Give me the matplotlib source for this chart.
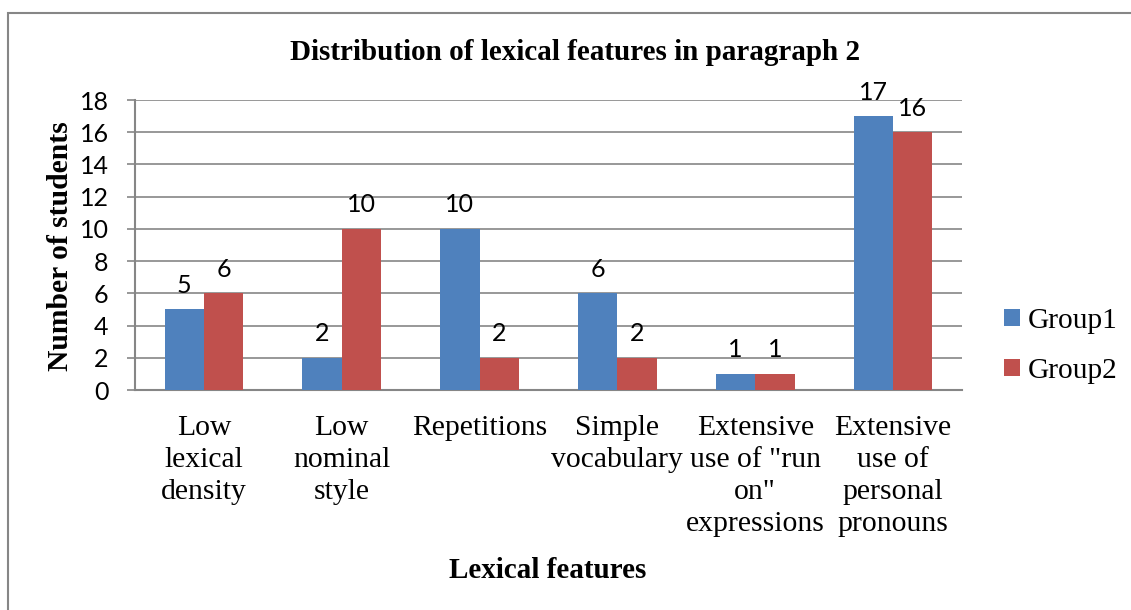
import matplotlib.pyplot as plt
from matplotlib.patches import Rectangle
import numpy as np

# data
categories = ['Low\nlexical\ndensity', 'Low\nnominal\nstyle', 'Repetitions',
              'Simple\nvocabulary', 'Extensive\nuse of "run\non"\nexpressions',
              'Extensive\nuse of\npersonal\npronouns']
group1 = [5, 2, 10, 6, 1, 17]
group2 = [6, 10, 2, 2, 1, 16]
series_names = ['Group1', 'Group2']
yticks = [0, 2, 4, 6, 8, 10, 12, 14, 16, 18]

blue = '#4F81BD'
red = '#C0504D'
grey = '#868686'
serif = 'Liberation Serif'
sans = 'Lato'

W, H = 1131, 610
fig = plt.figure(figsize=(W / 100, H / 100), dpi=100)
ax = fig.add_axes([135 / W, 1 - 390 / H, (962 - 135) / W, (390 - 100) / H])

x = np.arange(len(categories))
bw = 0.285
b1 = ax.bar(x - bw / 2, group1, bw, color=blue, label=series_names[0], zorder=3)
b2 = ax.bar(x + bw / 2, group2, bw, color=red, label=series_names[1], zorder=3)

# value labels
for bars in (b1, b2):
    for r in bars:
        ax.annotate(f'{int(r.get_height())}', (r.get_x() + r.get_width() / 2, r.get_height()),
                    xytext=(0, 9), textcoords='offset points', ha='center', va='bottom',
                    fontsize=18, family=sans, color='black')

ax.set_xlim(-0.5, len(categories) - 0.5)
ax.set_ylim(0, 18)
ax.set_yticks(yticks)
ax.set_xticks(x)
ax.set_xticklabels(categories, fontsize=21.3, family=serif, linespacing=1.3)
for t in ax.get_yticklabels():
    t.set_fontsize(18)
    t.set_family(sans)
ax.tick_params(axis='y', length=6, color=grey, width=1.2, pad=13)
ax.tick_params(axis='x', length=0, pad=18)

ax.grid(axis='y', color=grey, linewidth=1.2, zorder=0)
ax.set_axisbelow(True)
for s in ['top', 'right']:
    ax.spines[s].set_visible(False)
for s in ['left', 'bottom']:
    ax.spines[s].set_color(grey)
    ax.spines[s].set_linewidth(1.5)

# titles
fig.text(575 / W, 1 - 53 / H, 'Distribution of lexical features in paragraph 2',
         ha='center', va='center', fontsize=21, fontweight='bold', family=serif)
fig.text(548 / W, 1 - 570 / H, 'Lexical features', ha='center', va='center',
         fontsize=21, fontweight='bold', family=serif)
fig.text(60 / W, 1 - 246 / H, 'Number of students', ha='center', va='center',
         rotation=90, fontsize=21.3, fontweight='bold', family=serif)

# legend
fig.legend(loc='center left', bbox_to_anchor=(1004 / W, 1 - 346 / H), frameon=False,
           prop={'family': serif, 'size': 21.2}, handlelength=0.55, handleheight=0.5,
           handletextpad=0.25, labelspacing=0.8, borderpad=0, borderaxespad=0)

# outer chart frame (clipped on the right and bottom)
fig.patches.append(Rectangle((8 / W, -0.2), 1.5, 1.2 - 13 / H, transform=fig.transFigure,
                             fill=False, edgecolor=grey, linewidth=1.5))

fig.savefig('out.png', dpi=100)
